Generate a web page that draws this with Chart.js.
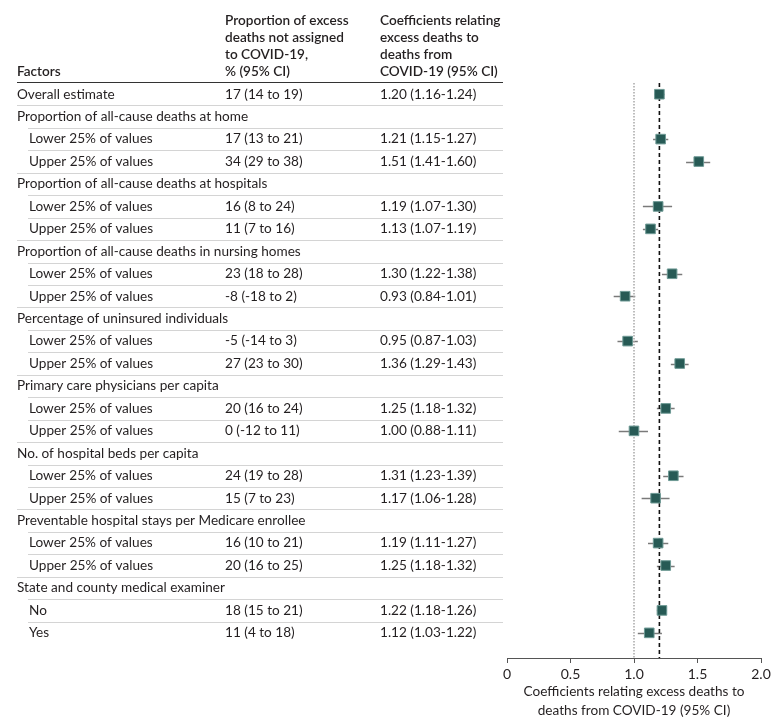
<!DOCTYPE html>
<html>
<head>
<meta charset="utf-8">
<script src="https://cdn.jsdelivr.net/npm/chart.js@4"></script>
<style>
  html, body { margin: 0; padding: 0; background: #fff; }
  #wrap { width: 780px; height: 728px; position: relative; }
</style>
</head>
<body>
<div id="wrap"><canvas id="forestChart" width="780" height="728"></canvas></div>
<script>
// ---- data ----
const rowLabels = [
    "Overall estimate",
    "Proportion of all-cause deaths at home",
    "Lower 25% of values", "Upper 25% of values",
    "Proportion of all-cause deaths at hospitals",
    "Lower 25% of values", "Upper 25% of values",
    "Proportion of all-cause deaths in nursing homes",
    "Lower 25% of values", "Upper 25% of values",
    "Percentage of uninsured individuals",
    "Lower 25% of values", "Upper 25% of values",
    "Primary care physicians per capita",
    "Lower 25% of values", "Upper 25% of values",
    "No. of hospital beds per capita",
    "Lower 25% of values", "Upper 25% of values",
    "Preventable hospital stays per Medicare enrollee",
    "Lower 25% of values", "Upper 25% of values",
    "State and county medical examiner",
    "No", "Yes"
];
const isSubRow = [0, 0, 1, 1, 0, 1, 1, 0, 1, 1, 0, 1, 1, 0, 1, 1, 0, 1, 1, 0, 1, 1, 0, 1, 1];

// proportion of excess deaths not assigned to COVID-19, % (95% CI)
const propEst  = [17, null, 17, 34, null, 16, 11, null, 23, -8, null, -5, 27, null, 20, 0, null, 24, 15, null, 16, 20, null, 18, 11];
const propLow  = [14, null, 13, 29, null, 8, 7, null, 18, -18, null, -14, 23, null, 16, -12, null, 19, 7, null, 10, 16, null, 15, 4];
const propHigh = [19, null, 21, 38, null, 24, 16, null, 28, 2, null, 3, 30, null, 24, 11, null, 28, 23, null, 21, 25, null, 21, 18];

// coefficients relating excess deaths to deaths from COVID-19 (95% CI)
const coefEst  = [1.20, null, 1.21, 1.51, null, 1.19, 1.13, null, 1.30, 0.93, null, 0.95, 1.36, null, 1.25, 1.00, null, 1.31, 1.17, null, 1.19, 1.25, null, 1.22, 1.12];
const coefLow  = [1.16, null, 1.15, 1.41, null, 1.07, 1.07, null, 1.22, 0.84, null, 0.87, 1.29, null, 1.18, 0.88, null, 1.23, 1.06, null, 1.11, 1.18, null, 1.18, 1.03];
const coefHigh = [1.24, null, 1.27, 1.60, null, 1.30, 1.19, null, 1.38, 1.01, null, 1.03, 1.43, null, 1.32, 1.11, null, 1.39, 1.28, null, 1.27, 1.32, null, 1.26, 1.22];

const xTicks = [0, 0.5, 1.0, 1.5, 2.0];
const overallLine = 1.20;
const nullLine = 1.0;

const col2Header = ["Proportion of excess", "deaths not assigned", "to COVID-19,", "% (95% CI)"];
const col3Header = ["Coefficients relating", "excess deaths to", "deaths from", "COVID-19 (95% CI)"];
const axisTitle = ["Coefficients relating excess deaths to", "deaths from COVID-19 (95% CI)"];

// ---- build chart data ----
const FONT = "Lato";
const FS = 13.6;
const yMin = -0.5, yMax = rowLabels.length - 0.5 + 0.62;

const points = [];
coefEst.forEach((v, i) => { if (v !== null) points.push({ x: v, y: i }); });

function fmtProp(i) {
    return propEst[i] + " (" + propLow[i] + " to " + propHigh[i] + ")";
}
function fmtCoef(i) {
    return coefEst[i].toFixed(2) + " (" + coefLow[i].toFixed(2) + "-" + coefHigh[i].toFixed(2) + ")";
}

// table text + row rules + CI whiskers
const tablePlugin = {
    id: "forestTable",
    beforeDatasetsDraw(chart) {
        const { ctx, scales: { x, y } } = chart;
        ctx.save();
        ctx.strokeStyle = "#7a7a7a";
        ctx.lineWidth = 1.5;
        coefEst.forEach((v, i) => {
            if (v === null) return;
            const py = Math.round(y.getPixelForValue(i)) + 0.5;
            ctx.beginPath();
            ctx.moveTo(x.getPixelForValue(coefLow[i]), py);
            ctx.lineTo(x.getPixelForValue(coefHigh[i]), py);
            ctx.stroke();
        });
        ctx.restore();
    },
    afterDraw(chart) {
        const { ctx, scales: { y } } = chart;
        const c1 = 17, c1sub = 29, c2 = 225, c3 = 380, right = 503;
        ctx.save();
        ctx.fillStyle = "#231f20";
        ctx.textBaseline = "middle";
        ctx.textAlign = "left";

        // header
        ctx.font = "600 " + FS + "px " + FONT;
        const hy = [21, 38, 55, 72];
        ctx.fillText("Factors", c1, hy[3]);
        col2Header.forEach((t, k) => ctx.fillText(t, c2, hy[k]));
        col3Header.forEach((t, k) => ctx.fillText(t, c3, hy[k]));

        ctx.strokeStyle = "#333";
        ctx.lineWidth = 1;
        const top = Math.round(y.getPixelForValue(yMin)) - 0.5;
        ctx.beginPath(); ctx.moveTo(c1, top); ctx.lineTo(right, top); ctx.stroke();

        // rows
        ctx.font = FS + "px " + FONT;
        rowLabels.forEach((lab, i) => {
            const py = y.getPixelForValue(i);
            ctx.fillText(lab, isSubRow[i] ? c1sub : c1, py);
            if (propEst[i] !== null) ctx.fillText(fmtProp(i), c2, py);
            if (coefEst[i] !== null) ctx.fillText(fmtCoef(i), c3, py);
        });

        // separators between rows
        ctx.strokeStyle = "#d4d4d4";
        for (let i = 0; i < rowLabels.length - 1; i++) {
            const ly = Math.round(y.getPixelForValue(i + 0.5)) + 0.5;
            const x0 = isSubRow[i + 1] ? c1sub - 1 : c1;
            ctx.beginPath(); ctx.moveTo(x0, ly); ctx.lineTo(right, ly); ctx.stroke();
        }
        ctx.restore();
    }
};

new Chart(document.getElementById("forestChart"), {
    type: "scatter",
    data: {
        datasets: [
            {
                label: "Coefficient",
                data: points,
                pointStyle: "rect",
                pointRadius: 6.8,
                pointHoverRadius: 6.8,
                backgroundColor: "#275a55",
                borderColor: "#6e9a95",
                borderWidth: 1,
                order: 0
            },
            {
                label: "Overall",
                type: "line",
                data: [{ x: overallLine, y: yMin }, { x: overallLine, y: yMax }],
                borderColor: "#111",
                borderWidth: 1.6,
                borderDash: [4, 3],
                pointRadius: 0,
                order: 1
            },
            {
                label: "Null",
                type: "line",
                data: [{ x: nullLine, y: yMin }, { x: nullLine, y: yMax }],
                borderColor: "#a8a8a8",
                borderWidth: 1.5,
                borderDash: [1.5, 1.5],
                pointRadius: 0,
                order: 2
            }
        ]
    },
    options: {
        responsive: false,
        animation: false,
        events: [],
        layout: { padding: { left: 507, top: 83, right: 19, bottom: 0 } },
        plugins: { legend: { display: false }, tooltip: { enabled: false } },
        scales: {
            x: {
                type: "linear",
                min: xTicks[0],
                max: xTicks[xTicks.length - 1],
                afterBuildTicks: (s) => { s.ticks = xTicks.map(v => ({ value: v })); },
                afterFit: (s) => { s.height = 70; },
                grid: { drawOnChartArea: false, tickLength: 5, color: "#555", lineWidth: 1 },
                border: { color: "#555", width: 1 },
                ticks: {
                    padding: 3,
                    color: "#231f20",
                    font: { family: FONT, size: 14 },
                    callback: (v) => v === 0 ? "0" : Number(v).toFixed(1)
                },
                title: {
                    display: true,
                    text: axisTitle,
                    color: "#231f20",
                    font: { family: FONT, size: FS, lineHeight: 19 / FS },
                    padding: { top: 4, bottom: 8 }
                }
            },
            y: {
                type: "linear",
                display: false,
                reverse: true,
                min: yMin,
                max: yMax
            }
        }
    },
    plugins: [tablePlugin]
});
</script>
</body>
</html>
